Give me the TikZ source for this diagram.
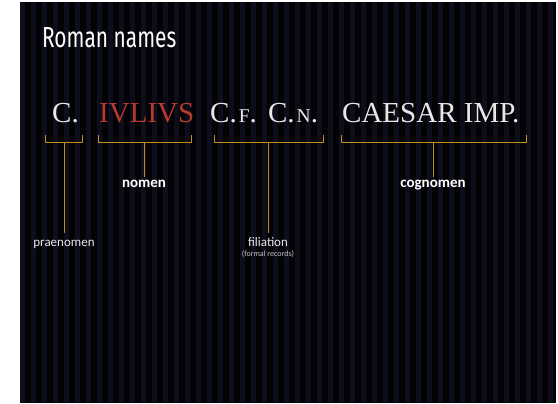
\documentclass[tikz,border=0pt]{standalone}
\usepackage{fontspec}
\setmainfont{Liberation Serif}
\newfontfamily\labelfont{Carlito}
\newfontfamily\titlefont{Fira Sans}
\definecolor{slidebg}{HTML}{030306}
\definecolor{stripe}{HTML}{0C0E1B}
\definecolor{bracegold}{HTML}{C38C1F}
\definecolor{nomred}{HTML}{B63A2D}
\definecolor{inscr}{HTML}{E8E8E8}
\newcommand{\smallcap}[1]{{\fontsize{19.5}{19.5}\selectfont #1}}
\tikzset{
  inscription/.style={anchor=base west, inner sep=0pt, text=inscr,
    font=\fontsize{29}{29}\selectfont},
  bracket/.style={draw=bracegold, line width=1pt},
  partlabel/.style={anchor=base, inner sep=0pt, text height=1em, text=white},
}
\begin{document}
\begin{tikzpicture}[x=1pt,y=-1pt]
  \fill[white] (0,0) rectangle (558,404);
  \fill[slidebg] (20,2) rectangle (556,403);
  \foreach \k in {0,...,48}
    \fill[stripe] (20+11*\k,2) rectangle (25+11*\k,403);
  % title
  \node[anchor=base west, inner sep=0pt, text=white, xscale=0.72,
    font=\titlefont\fontsize{29}{29}\selectfont] (title) at (42,47.5) {Roman names};
  % the name itself
  \node[inscription] (prae) at (52,123) {C.};
  \node[inscription, text=nomred] (nom) at (99,123) {IVLIVS};
  \node[inscription] (fil) at (210,123) {C.\kern2pt\smallcap{F}.\kern4pt\ C.\kern2pt\smallcap{N}.};
  \node[inscription] (cog) at (342,123) {CAESAR IMP.};
  % brackets under the parts
  \draw[bracket] (45,135) |- (82,143) -- (82,135);
  \draw[bracket] (98,135) |- (191,143) -- (191,135);
  \draw[bracket] (214,135) |- (323,143) -- (323,135);
  \draw[bracket] (341,135) |- (526,143) -- (526,135);
  \coordinate (m1) at (64,143);
  \coordinate (m2) at (144,143);
  \coordinate (m3) at (268,143);
  \coordinate (m4) at (433,143);
  % labels
  \node[partlabel, text=inscr, font=\labelfont\fontsize{13}{13}\selectfont] (praelbl) at (64,246.5) {praenomen};
  \node[partlabel, font=\labelfont\bfseries\fontsize{15}{15}\selectfont] (nomlbl) at (144,187) {nomen};
  \node[partlabel, text=inscr, font=\labelfont\fontsize{13}{13}\selectfont] (fillbl) at (268,246.5) {filiation};
  \node[anchor=base, inner sep=0pt, text=inscr!85!black, font=\labelfont\fontsize{8}{8}\selectfont] (filnote) at (268,256.5) {(formal records)};
  \node[partlabel, font=\labelfont\bfseries\fontsize{15}{15}\selectfont] (coglbl) at (433,187) {cognomen};
  \draw[bracket] (m1) -- ([yshift=3pt]praelbl.north);
  \draw[bracket] (m2) -- (nomlbl.north);
  \draw[bracket] (m3) -- ([yshift=3pt]fillbl.north);
  \draw[bracket] (m4) -- (coglbl.north);
\end{tikzpicture}
\end{document}
